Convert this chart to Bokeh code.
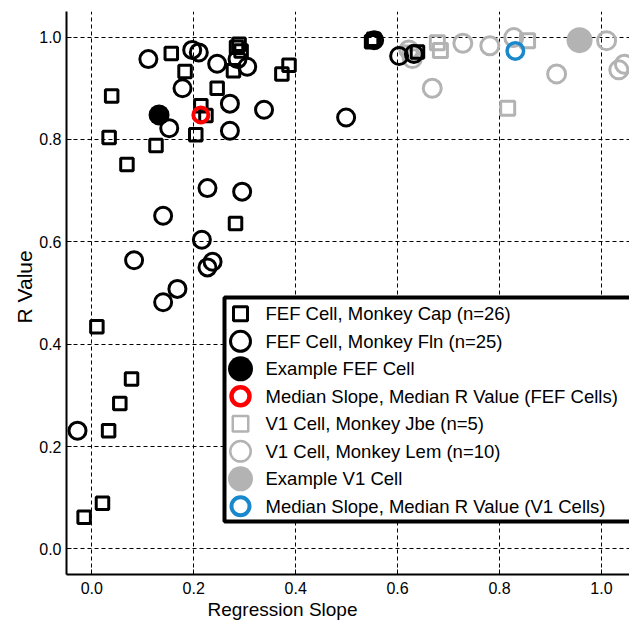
from bokeh.plotting import figure
from bokeh.models import Range1d, Title, FixedTicker, NumeralTickFormatter
from bokeh.core.properties import value
from bokeh.embed import file_html
from bokeh.resources import INLINE

# ---------------- data ----------------
fef_cap_x = [0.039, 0.034, 0.069, 0.126, 0.156, 0.183, 0.204, 0.214, 0.224, 0.246, 0.278, 0.289, 0.293,
             0.282, 0.373, 0.387, 0.010, 0.078, 0.055, 0.033, 0.021, -0.015, 0.549, 0.639, 0.284, 0.553]
fef_cap_y = [0.885, 0.804, 0.751, 0.788, 0.968, 0.933, 0.809, 0.866, 0.847, 0.900, 0.934, 0.986, 0.973,
             0.636, 0.928, 0.945, 0.434, 0.332, 0.284, 0.231, 0.089, 0.062, 0.991, 0.971, 0.980, 0.996]

fef_fln_x = [0.111, 0.197, 0.210, 0.178, 0.246, 0.286, 0.305, 0.271, 0.338, 0.152, 0.271, 0.227, 0.295,
             0.140, 0.216, 0.083, 0.237, 0.227, 0.168, 0.140, -0.028, 0.499, 0.603, 0.554, 0.632]
fef_fln_y = [0.957, 0.975, 0.970, 0.900, 0.948, 0.957, 0.942, 0.870, 0.858, 0.822, 0.817, 0.705, 0.698,
             0.651, 0.604, 0.564, 0.561, 0.550, 0.508, 0.482, 0.231, 0.843, 0.963, 0.994, 0.967]

v1_jbe_x = [0.678, 0.684, 0.855, 0.816, 0.625]
v1_jbe_y = [0.989, 0.974, 0.993, 0.861, 0.969]

v1_lem_x = [0.668, 0.728, 0.781, 0.828, 0.912, 1.010, 1.034, 1.045, 0.629, 0.622]
v1_lem_y = [0.900, 0.988, 0.983, 0.999, 0.928, 0.993, 0.936, 0.947, 0.958, 0.975]

example_fef = (0.132, 0.848)
median_fef = (0.214, 0.848)
example_v1 = (0.957, 0.994)
median_v1 = (0.831, 0.973)

x_ticks = [0.0, 0.2, 0.4, 0.6, 0.8, 1.0]
y_ticks = [0.0, 0.2, 0.4, 0.6, 0.8, 1.0]

legend_labels = [
    "FEF Cell, Monkey Cap (n=26)",
    "FEF Cell, Monkey Fln (n=25)",
    "Example FEF Cell",
    "Median Slope, Median R Value (FEF Cells)",
    "V1 Cell, Monkey Jbe (n=5)",
    "V1 Cell, Monkey Lem (n=10)",
    "Example V1 Cell",
    "Median Slope, Median R Value (V1 Cells)",
]

GRAY = "#b3b3b3"
BLUE = "#1a88cc"
RED = "#ff0000"
FONT = "Liberation Sans"

FW, FH = 563, 563
p = figure(width=629, height=625, output_backend="svg", toolbar_location=None,
           x_range=Range1d(-0.0496, 1.055), y_range=Range1d(-0.050, 1.050),
           min_border_left=66, min_border_right=0, min_border_top=11, min_border_bottom=51,
           background_fill_color="white", border_fill_color="white")
p.outline_line_color = None

# axes
for ax, ticks in ((p.xaxis, x_ticks), (p.yaxis, y_ticks)):
    ax.ticker = FixedTicker(ticks=ticks)
    ax.formatter = NumeralTickFormatter(format="0.0")
    ax.axis_line_width = 2
    ax.axis_line_color = "black"
    ax.major_tick_in = 5
    ax.major_tick_out = 0
    ax.minor_tick_in = 0
    ax.minor_tick_out = 0
    ax.major_tick_line_color = "black"
    ax.major_label_text_font = FONT
    ax.major_label_text_font_size = "16px"
    ax.major_label_text_color = "black"
p.xaxis.major_label_standoff = 7
p.yaxis.major_label_standoff = 5

p.grid.grid_line_color = "black"
p.grid.grid_line_dash = "4 3"
p.grid.grid_line_width = 1

p.add_layout(Title(text="Regression Slope", align="left", offset=141, text_font=FONT,
                   text_font_size="19px", text_font_style="normal", text_color="black",
                   standoff=0), "below")
p.add_layout(Title(text="R Value", align="left", offset=251, text_font=FONT,
                   text_font_size="21px", text_font_style="normal", text_color="black",
                   standoff=2), "left")

# data marks
p.scatter(v1_jbe_x, v1_jbe_y, marker="square", size=14, fill_color=None, line_color=GRAY, line_width=3)
p.scatter(v1_lem_x, v1_lem_y, marker="circle", size=18, fill_color=None, line_color=GRAY, line_width=3)
p.scatter(fef_cap_x, fef_cap_y, marker="square", size=12.5, fill_color=None, line_color="black", line_width=3)
p.scatter(fef_fln_x, fef_fln_y, marker="circle", size=17, fill_color=None, line_color="black", line_width=3)
p.scatter([example_fef[0]], [example_fef[1]], marker="circle", size=21, fill_color="black", line_color=None)
p.scatter([median_fef[0]], [median_fef[1]], marker="circle", size=15, fill_color=None, line_color=RED, line_width=4)
p.scatter([example_v1[0]], [example_v1[1]], marker="circle", size=26, fill_color=GRAY, line_color=None)
p.scatter([median_v1[0]], [median_v1[1]], marker="circle", size=16.5, fill_color=None, line_color=BLUE, line_width=3.5)

# ---------------- legend (drawn in pixel space of the frame) ----------------
p.extra_x_ranges = {"px": Range1d(0, FW)}
p.extra_y_ranges = {"py": Range1d(0, FH)}

leg_left, leg_top, leg_bottom = 158, 277, 53
row0, row_h = 260.7, 27.5
mark_x, text_x = 174, 199

p.quad(left=[leg_left], right=[FW + 40], top=[leg_top], bottom=[leg_bottom],
       fill_color="white", line_color="black", line_width=4,
       x_range_name="px", y_range_name="py")

leg_markers = ["square", "circle", "circle", "circle", "square", "circle", "circle", "circle"]
leg_sizes = [14, 20, 25, 18, 15.5, 20.5, 25, 18]
leg_fill = [None, None, "black", None, None, None, GRAY, None]
leg_line = ["black", "black", None, RED, GRAY, GRAY, None, BLUE]
leg_lw = [3, 3, 0, 4.5, 2.5, 2.5, 0, 4]

for i, lab in enumerate(legend_labels):
    yy = row0 - i * row_h
    p.scatter([mark_x], [yy], marker=leg_markers[i], size=leg_sizes[i],
              fill_color=leg_fill[i], line_color=leg_line[i], line_width=leg_lw[i],
              x_range_name="px", y_range_name="py")
    p.text([text_x], [yy], text=[lab], text_font=value(FONT), text_font_size="18.5px",
           text_baseline="middle", text_align="left", text_color="black",
           x_range_name="px", y_range_name="py")

open("out.html", "w").write(file_html(p, INLINE))
